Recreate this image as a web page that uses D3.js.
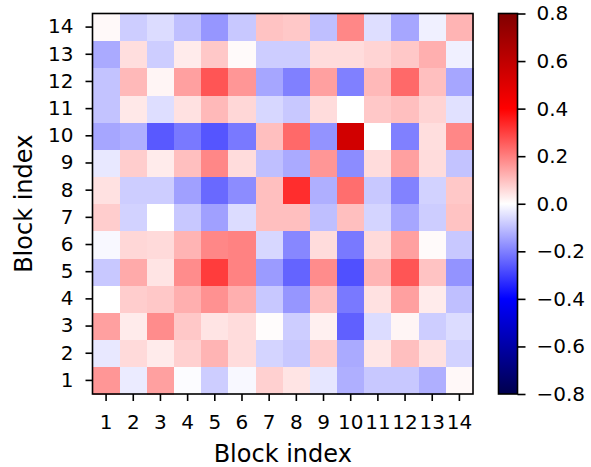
<!DOCTYPE html>
<html>
<head>
<meta charset="utf-8">
<script src="https://cdn.jsdelivr.net/npm/d3@7"></script>
<style>
  body { margin: 0; background: white; }
  text { font-family: "DejaVu Sans", sans-serif; }
</style>
</head>
<body>
<div id="chart"></div>
<script>
// block labels, 1..14
var blocks = d3.range(1, 15)

// values[i] = row for block i+1 (bottom to top), columns block 1..14
var values = [
  [0.165, -0.031, 0.149, -0.005, -0.078, -0.011, 0.074, 0.042, -0.039, -0.125, -0.086, -0.086, -0.125, 0.011],
  [-0.036, 0.058, 0.031, 0.074, 0.118, 0.055, -0.067, -0.086, 0.078, -0.133, 0.039, 0.10, 0.047, -0.071],
  [0.149, 0.031, 0.18, 0.086, 0.042, 0.055, 0.005, -0.078, 0.024, -0.25, -0.055, 0.016, -0.078, -0.055],
  [0.0, 0.078, 0.086, 0.125, 0.172, 0.125, -0.086, -0.165, 0.10, -0.21, 0.047, 0.149, 0.031, -0.10],
  [-0.086, 0.133, 0.042, 0.18, 0.306, 0.196, -0.157, -0.243, 0.18, -0.275, 0.118, 0.267, 0.094, -0.17],
  [-0.011, 0.063, 0.058, 0.118, 0.188, 0.196, -0.063, -0.188, 0.055, -0.21, 0.058, 0.149, 0.008, -0.086],
  [0.078, -0.071, 0.0, -0.086, -0.149, -0.055, 0.10, 0.10, -0.10, 0.10, -0.067, -0.14, -0.078, 0.094],
  [0.047, -0.078, -0.078, -0.149, -0.235, -0.18, 0.10, 0.33, -0.125, 0.227, -0.086, -0.196, -0.071, 0.086],
  [-0.036, 0.078, 0.031, 0.10, 0.188, 0.055, -0.10, -0.133, 0.165, -0.18, 0.055, 0.149, 0.055, -0.094],
  [-0.14, -0.125, -0.26, -0.21, -0.267, -0.21, 0.10, 0.235, -0.17, 0.544, 0.0, -0.2, 0.052, 0.188],
  [-0.094, 0.036, -0.052, 0.047, 0.11, 0.063, -0.063, -0.086, 0.055, 0.0, 0.086, 0.10, 0.067, -0.047],
  [-0.094, 0.11, 0.016, 0.149, 0.267, 0.165, -0.14, -0.2, 0.149, -0.2, 0.11, 0.235, 0.10, -0.14],
  [-0.133, 0.052, -0.078, 0.031, 0.086, 0.008, -0.078, -0.078, 0.055, 0.055, 0.067, 0.086, 0.125, -0.024],
  [0.01, -0.078, -0.055, -0.10, -0.165, -0.086, 0.094, 0.086, -0.10, 0.188, -0.052, -0.14, -0.024, 0.118]
]

var cbarTicks = [-0.8, -0.6, -0.4, -0.2, 0.0, 0.2, 0.4, 0.6, 0.8]

var width = 591, height = 467
var plot = { left: 92.5, top: 13.5, size: 380.5 }
var cbar = { left: 498.5, width: 19 }

var svg = d3.select("#chart")
  .append("svg")
  .attr("width", width)
  .attr("height", height)

// seismic colormap, vmin -0.8 / vmax 0.8
var color = d3.scaleLinear()
  .domain([-0.8, -0.4, 0, 0.4, 0.8])
  .range(["#00004d", "#0000ff", "#ffffff", "#ff0000", "#800000"])
  .clamp(true)

var xScale = d3.scaleBand()
  .domain(blocks)
  .range([plot.left, plot.left + plot.size])

var yScale = d3.scaleBand()
  .domain(blocks)
  .range([plot.top + plot.size, plot.top])

// cells
var cells = []
values.forEach(function(row, i) {
  row.forEach(function(v, j) {
    cells.push({ r: blocks[i], c: blocks[j], v: v })
  })
})

svg.append("g")
  .selectAll("rect")
  .data(cells)
  .enter()
  .append("rect")
  .attr("x", d => xScale(d.c))
  .attr("y", d => yScale(d.r))
  .attr("width", xScale.bandwidth() + 0.5)
  .attr("height", yScale.bandwidth() + 0.5)
  .attr("shape-rendering", "crispEdges")
  .style("fill", d => color(d.v))

// frame
svg.append("rect")
  .attr("x", plot.left)
  .attr("y", plot.top)
  .attr("width", plot.size)
  .attr("height", plot.size)
  .attr("fill", "none")
  .attr("stroke", "black")
  .attr("stroke-width", 1.6)

// axes
var xAxis = d3.axisBottom(xScale).tickSize(7).tickPadding(14)
var yAxis = d3.axisLeft(yScale).tickSize(7).tickPadding(12)

svg.append("g")
  .attr("transform", `translate(0,${plot.top + plot.size})`)
  .call(xAxis)
  .call(g => g.select(".domain").remove())
  .call(g => g.selectAll("line").attr("stroke-width", 1.6))
  .selectAll("text")
  .style("font-size", "20px")
  .style("fill", "black")

svg.append("g")
  .attr("transform", `translate(${plot.left},0)`)
  .call(yAxis)
  .call(g => g.select(".domain").remove())
  .call(g => g.selectAll("line").attr("stroke-width", 1.6))
  .selectAll("text")
  .style("font-size", "20px")
  .style("fill", "black")

// axis labels
svg.append("text")
  .attr("x", plot.left + plot.size / 2)
  .attr("y", 462)
  .attr("text-anchor", "middle")
  .style("font-size", "24px")
  .text("Block index")

svg.append("text")
  .attr("transform", `translate(32,${plot.top + plot.size / 2}) rotate(-90)`)
  .attr("text-anchor", "middle")
  .style("font-size", "24px")
  .text("Block index")

// colorbar
var cScale = d3.scaleLinear()
  .domain([-0.8, 0.8])
  .range([plot.top + plot.size, plot.top])

var grad = svg.append("defs")
  .append("linearGradient")
  .attr("id", "seismic")
  .attr("x1", 0).attr("x2", 0)
  .attr("y1", 1).attr("y2", 0)

grad.selectAll("stop")
  .data(color.domain())
  .enter()
  .append("stop")
  .attr("offset", d => (d + 0.8) / 1.6)
  .attr("stop-color", d => color(d))

svg.append("rect")
  .attr("x", cbar.left)
  .attr("y", plot.top)
  .attr("width", cbar.width)
  .attr("height", plot.size)
  .style("fill", "url(#seismic)")
  .attr("stroke", "black")
  .attr("stroke-width", 1.6)

svg.append("g")
  .attr("transform", `translate(${cbar.left + cbar.width},0)`)
  .call(d3.axisRight(cScale).tickValues(cbarTicks).tickFormat(d3.format(".1f")).tickSize(8).tickPadding(11))
  .call(g => g.select(".domain").remove())
  .call(g => g.selectAll("line").attr("stroke-width", 1.6))
  .selectAll("text")
  .style("font-size", "20px")
  .style("fill", "black")
</script>
</body>
</html>
